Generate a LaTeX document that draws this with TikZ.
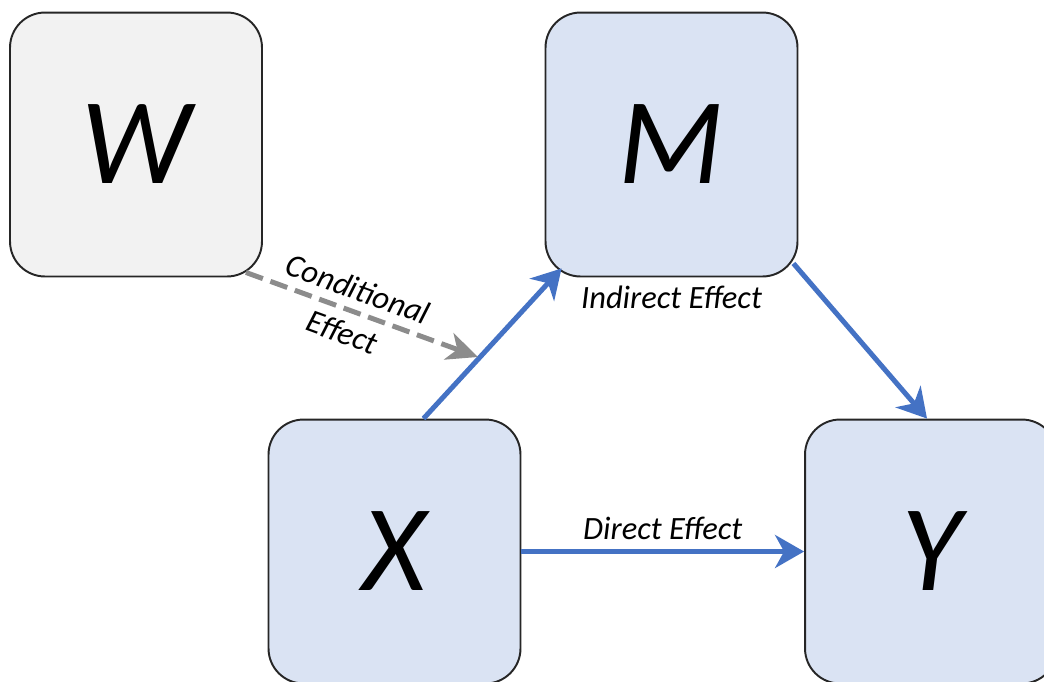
\documentclass[tikz,border=0pt]{standalone}
\usepackage{fontspec}
\setmainfont{Carlito}
\usetikzlibrary{arrows.meta}
\usetikzlibrary{positioning}
\definecolor{BoxBlue}{HTML}{DAE3F3}
\definecolor{BoxGray}{HTML}{F2F2F2}
\definecolor{BoxLine}{HTML}{262626}
\definecolor{EdgeBlue}{HTML}{4472C4}
\definecolor{EdgeGray}{HTML}{8C8C8C}
\tikzset{
  var/.style={draw=BoxLine, line width=1.1pt, rounded corners=0.7cm,
    minimum width=5.04cm, minimum height=5.28cm, inner sep=0pt,
    font=\fontsize{70}{70}\selectfont\itshape},
  effect/.style={line width=0.1cm, EdgeBlue,
    -{Stealth[length=0.58cm,width=0.66cm,inset=0.18cm]}},
  cond/.style={line width=0.1cm, EdgeGray, dash pattern=on 0.36cm off 0.16cm,
    -{Stealth[length=0.62cm,width=0.56cm,inset=0.18cm]}},
  lbl/.style={text=black, font=\fontsize{18.5}{26}\selectfont\itshape, inner sep=1pt}
}
\begin{document}
\begin{tikzpicture}[x=0.02cm, y=-0.02cm]
  \clip (0,0) rectangle (1044,681);

  % variables
  \node[var, fill=BoxGray] (W) at (136,144.5) {W};
  \node[var, fill=BoxBlue] (M) at (671.5,144.5) {M};
  \node[var, fill=BoxBlue] (X) at (394.5,551.5) {X};
  \node[var, fill=BoxBlue] (Y) at (931,551.5) {Y};

  \coordinate (Target) at (478,357);

  % paths
  \draw[effect] ([shift={(29,0)}]X.north) -- ([shift={(17,-9)}]M.south west);
  \draw[effect] ([shift={(-5,-14)}]M.south east) -- ([shift={(-4,0)}]Y.north);
  \draw[effect] (X.east) -- node[lbl, above=4pt] (direct) {Direct Effect} (Y.west);
  \draw[cond] ([shift={(-17,-5)}]W.south east) -- node[lbl, sloped, pos=0.45, align=center] (condlbl) {Conditional\\Effect} (Target);

  \node[lbl, below=3.5pt of M] (indirect) {Indirect Effect};
\end{tikzpicture}
\end{document}
